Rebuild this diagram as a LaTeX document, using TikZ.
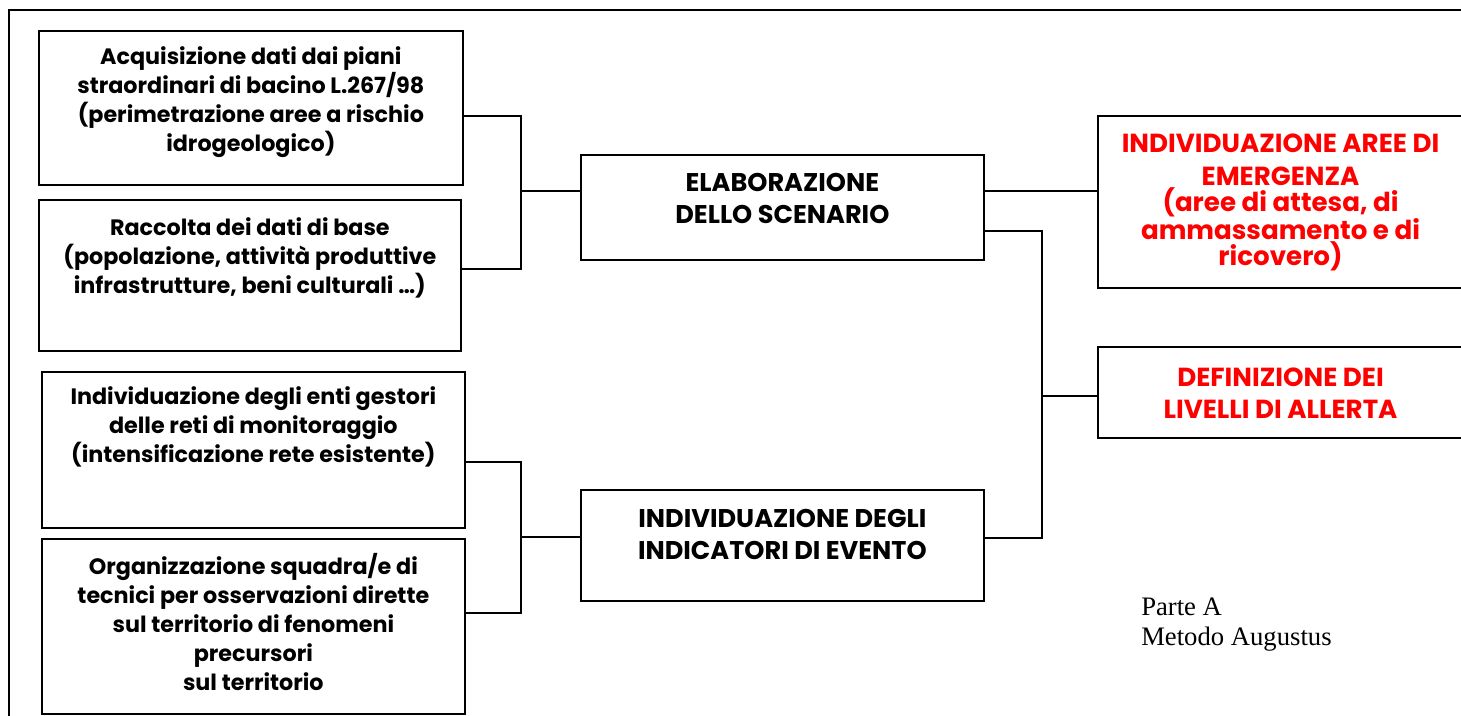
\documentclass[tikz,border=0pt]{standalone}
\usepackage{fontspec}
\setmainfont{Poppins}
\newfontfamily\notefont{Liberation Serif}
\usetikzlibrary{positioning}
\definecolor{alertred}{RGB}{255,0,0}

\tikzset{
  box/.style={draw, line width=1.3pt, inner sep=0pt, anchor=north west},
  boxtext/.style={align=center, inner sep=0pt, font=\bfseries\fontsize{16.7}{21.75}\selectfont},
  headtext/.style={align=center, inner sep=0pt, font=\bfseries\fontsize{19.2}{24}\selectfont},
  redtext/.style={align=center, inner sep=0pt, text=alertred, font=\bfseries\fontsize{19.6}{19.5}\selectfont},
  link/.style={line width=1.3pt}
}

\begin{document}
\begin{tikzpicture}[x=0.75pt, y=-0.75pt]

  \useasboundingbox (0,0) rectangle (1461,715);
  \draw[link] (9,10) rectangle (1480,730);

  % left column
  \node[box, minimum width=318pt, minimum height=115.5pt] (a1) at (38,30) {};
  \node[box, minimum width=316.5pt, minimum height=113.25pt] (a2) at (38,199) {};
  \node[box, minimum width=317.25pt, minimum height=117pt] (b1) at (41,371) {};
  \node[box, minimum width=317.25pt, minimum height=131.25pt] (b2) at (41,538) {};

  % middle column
  \node[box, minimum width=302.25pt, minimum height=78.75pt] (elab) at (580,154) {};
  \node[box, minimum width=302.25pt, minimum height=83.25pt] (indic) at (580,489) {};

  % right column
  \node[box, minimum width=276pt, minimum height=129pt] (emerg) at (1097,115) {};
  \node[box, minimum width=276pt, minimum height=68.25pt] (def) at (1097,346) {};

  % texts
  \node[boxtext, below=12.5pt of a1.north] (a1t) {Acquisizione dati dai piani\\straordinari di bacino L.267/98\\(perimetrazione aree a rischio\\idrogeologico)};
  \node[boxtext, below=13.5pt of a2.north] (a2t) {Raccolta dei dati di base\\(popolazione, attività produttive\\infrastrutture, beni culturali …)};
  \node[boxtext, below=11.5pt of b1.north] (b1t) {Individuazione degli enti gestori\\delle reti di monitoraggio\\(intensificazione rete esistente)};
  \node[boxtext, below=11pt of b2.north] (b2t) {Organizzazione squadra/e di\\tecnici per osservazioni dirette\\sul territorio di fenomeni\\precursori\\sul territorio};
  \node[headtext, below=14pt of elab.north] (elabt) {ELABORAZIONE\\DELLO SCENARIO};
  \node[headtext, below=15pt of indic.north] (indict) {INDIVIDUAZIONE DEGLI\\INDICATORI DI EVENTO};
  \node[redtext, below=14pt of emerg.north, xshift=-1pt] (emergt) {INDIVIDUAZIONE AREE DI\\[5.5pt]EMERGENZA\\(aree di attesa, di\\ammassamento e di\\ricovero)};
  \node[redtext, below=16pt of def.north, xshift=-1pt] (deft) {DEFINIZIONE DEI\\[5pt]LIVELLI DI ALLERTA};

  \node[align=left, anchor=north west, inner sep=0pt, font=\notefont\fontsize{20}{22.5}\selectfont] (note) at (1141,598) {Parte A\\Metodo Augustus};

  % connectors
  \coordinate (jA) at (521,191);
  \coordinate (jB) at (521,537);
  \coordinate (jC) at (1042,396);

  \draw[link] ([yshift=-6pt]a1.east) -| (jA) |- ([yshift=4.9pt]a2.east);
  \draw[link] (jA) -- (elab.west |- jA);
  \draw[link] ([yshift=-9pt]b1.east) -| (jB) |- ([yshift=10.1pt]b2.east);
  \draw[link] (jB) -- (indic.west |- jB);
  \draw[link] (elab.east |- jA) -- (emerg.west |- jA);
  \draw[link] ([yshift=-17.6pt]elab.east) -| (jC) |- ([yshift=5.6pt]indic.east);
  \draw[link] (jC) -- (def.west |- jC);

\end{tikzpicture}
\end{document}
